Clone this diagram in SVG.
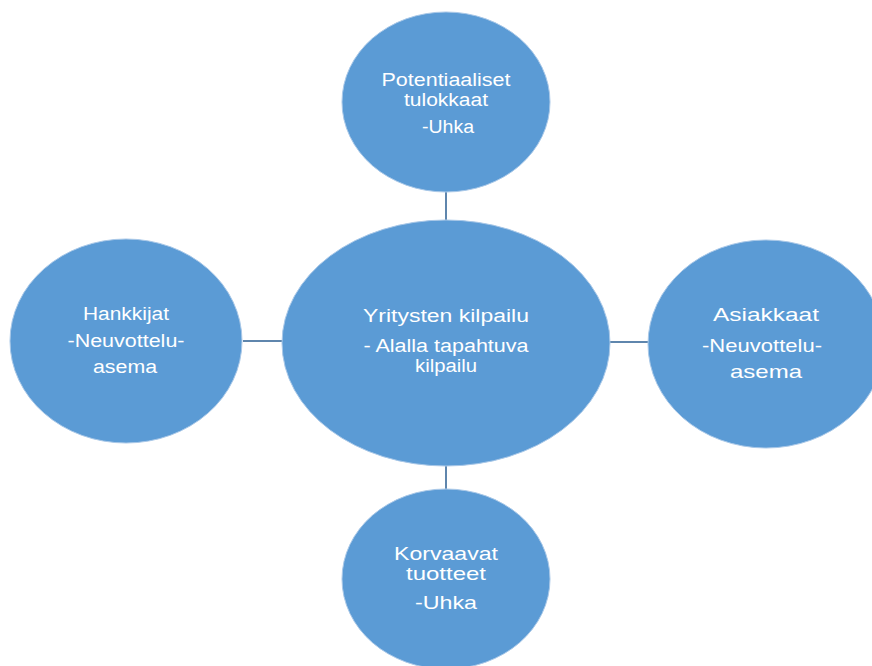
<svg xmlns="http://www.w3.org/2000/svg" width="872" height="666" viewBox="0 0 872 666">
<style>
.node{fill:#5b9bd5;stroke:#a9c8e8;stroke-width:1}
.t{font-family:"Liberation Sans",Arial,sans-serif;fill:#ffffff;text-anchor:middle}
.conn line{stroke:#5f86ad;stroke-width:2}
</style>
<rect width="872" height="666" fill="#ffffff"/>
<g id="connectors" class="conn">
<line x1="446" y1="192" x2="446" y2="221"/>
<line x1="243" y1="341" x2="283" y2="341"/>
<line x1="609" y1="342" x2="649" y2="342"/>
<line x1="446" y1="465" x2="446" y2="489"/>
</g>
<g id="center">
<ellipse class="node" cx="446" cy="343" rx="164" ry="123"/>
<text class="t" x="446" y="322" font-size="18" textLength="166" lengthAdjust="spacingAndGlyphs">Yritysten kilpailu</text>
<text class="t" x="446" y="352" font-size="18" textLength="165" lengthAdjust="spacingAndGlyphs">- Alalla tapahtuva</text>
<text class="t" x="446" y="372" font-size="18" textLength="62" lengthAdjust="spacingAndGlyphs">kilpailu</text>
</g>
<g id="top">
<ellipse class="node" cx="446" cy="102" rx="104" ry="90"/>
<text class="t" x="446" y="86" font-size="18" textLength="129" lengthAdjust="spacingAndGlyphs">Potentiaaliset</text>
<text class="t" x="446" y="106" font-size="18" textLength="84" lengthAdjust="spacingAndGlyphs">tulokkaat</text>
<text class="t" x="448" y="133" font-size="18" textLength="52" lengthAdjust="spacingAndGlyphs">-Uhka</text>
</g>
<g id="left">
<ellipse class="node" cx="126" cy="341" rx="116" ry="102"/>
<text class="t" x="126" y="320" font-size="18" textLength="86" lengthAdjust="spacingAndGlyphs">Hankkijat</text>
<text class="t" x="126" y="347" font-size="18" textLength="117" lengthAdjust="spacingAndGlyphs">-Neuvottelu-</text>
<text class="t" x="125" y="373" font-size="18" textLength="64" lengthAdjust="spacingAndGlyphs">asema</text>
</g>
<g id="right">
<ellipse class="node" cx="766" cy="344" rx="118" ry="104"/>
<text class="t" x="766" y="321" font-size="19" textLength="106" lengthAdjust="spacingAndGlyphs">Asiakkaat</text>
<text class="t" x="762" y="352" font-size="19" textLength="120" lengthAdjust="spacingAndGlyphs">-Neuvottelu-</text>
<text class="t" x="766" y="378" font-size="19" textLength="72" lengthAdjust="spacingAndGlyphs">asema</text>
</g>
<g id="bottom">
<ellipse class="node" cx="446" cy="579" rx="104" ry="90"/>
<text class="t" x="446" y="560" font-size="19" textLength="104" lengthAdjust="spacingAndGlyphs">Korvaavat</text>
<text class="t" x="446" y="580" font-size="19" textLength="80" lengthAdjust="spacingAndGlyphs">tuotteet</text>
<text class="t" x="446" y="609" font-size="19" textLength="62" lengthAdjust="spacingAndGlyphs">-Uhka</text>
</g>
</svg>
